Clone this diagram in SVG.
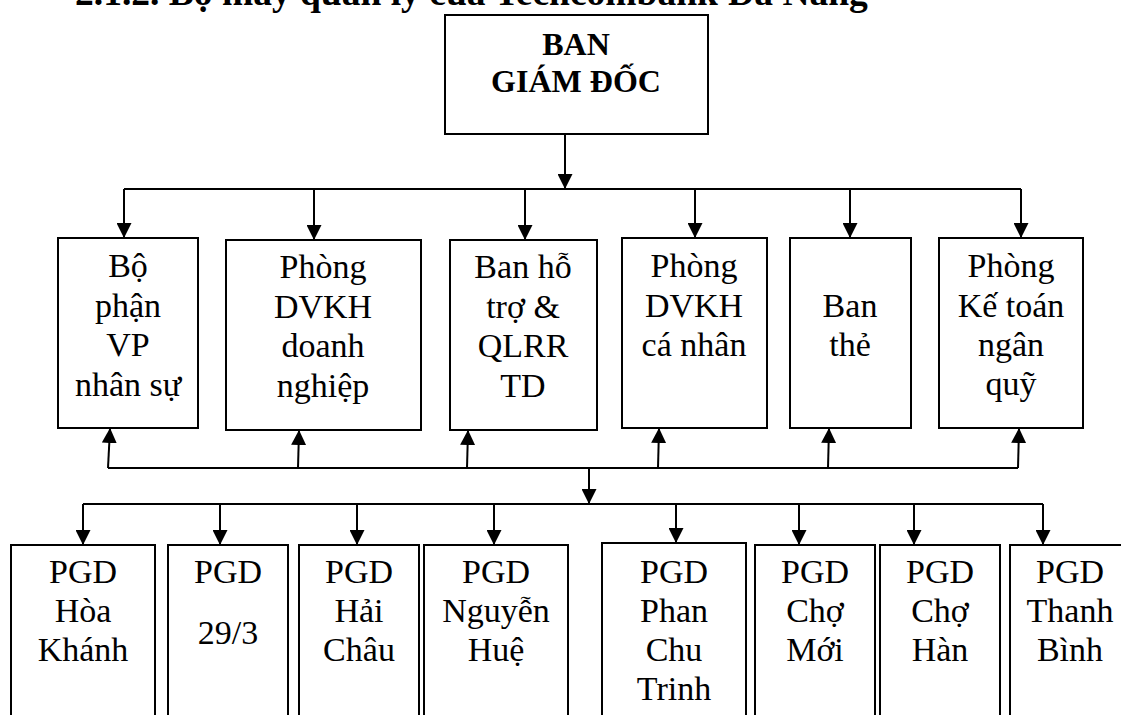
<svg xmlns="http://www.w3.org/2000/svg" width="1121" height="715" viewBox="0 0 1121 715">
<style>
.box{fill:#fff;stroke:#000;stroke-width:2}
.t{font-family:"Liberation Serif","Times New Roman",serif;font-size:34px;text-anchor:middle;fill:#000}
.b{font-family:"Liberation Serif","Times New Roman",serif;font-size:32px;font-weight:bold;text-anchor:middle;fill:#000}
.ttl{font-family:"Liberation Serif","Times New Roman",serif;font-size:37.5px;font-weight:bold;fill:#000}
.ln{fill:none;stroke:#000;stroke-width:2}
</style>
<defs>
<marker id="ah" markerWidth="15" markerHeight="15" refX="14" refY="7.5" orient="auto" markerUnits="userSpaceOnUse" viewBox="0 0 15 15">
<path d="M0,0 L15,7.5 L0,15 Z" fill="#000"/>
</marker>
</defs>
<rect width="1121" height="715" fill="#fff"/>
<text class="ttl" x="75" y="5">2.1.2. Bộ máy quản lý của Techcombank Đà Nẵng</text>

<g id="ban-giam-doc">
<rect class="box" x="445" y="15" width="263" height="119"/>
<text class="b" x="576" y="55">BAN</text>
<text class="b" x="576" y="92">GIÁM ĐỐC</text>
</g>

<g id="bo-phan-vp">
<rect class="box" x="58" y="238" width="140" height="190"/>
<text class="t" x="128" y="277">Bộ</text>
<text class="t" x="128" y="317">phận</text>
<text class="t" x="128" y="356">VP</text>
<text class="t" x="128" y="396">nhân sự</text>
</g>
<g id="phong-dvkh-dn">
<rect class="box" x="226" y="240" width="195" height="190"/>
<text class="t" x="323" y="278">Phòng</text>
<text class="t" x="323" y="318">DVKH</text>
<text class="t" x="323" y="357">doanh</text>
<text class="t" x="323" y="397">nghiệp</text>
</g>
<g id="ban-ho-tro">
<rect class="box" x="450" y="240" width="147" height="190"/>
<text class="t" x="523" y="278">Ban hỗ</text>
<text class="t" x="523" y="318">trợ &amp;</text>
<text class="t" x="523" y="357">QLRR</text>
<text class="t" x="523" y="397">TD</text>
</g>
<g id="phong-dvkh-cn">
<rect class="box" x="622" y="238" width="145" height="190"/>
<text class="t" x="694" y="277">Phòng</text>
<text class="t" x="694" y="317">DVKH</text>
<text class="t" x="694" y="356">cá nhân</text>
</g>
<g id="ban-the">
<rect class="box" x="790" y="238" width="121" height="190"/>
<text class="t" x="850" y="317">Ban</text>
<text class="t" x="850" y="356">thẻ</text>
</g>
<g id="phong-ke-toan">
<rect class="box" x="939" y="238" width="144" height="190"/>
<text class="t" x="1011" y="277">Phòng</text>
<text class="t" x="1011" y="317">Kế toán</text>
<text class="t" x="1011" y="356">ngân</text>
<text class="t" x="1011" y="395">quỹ</text>
</g>

<g id="pgd-hoa-khanh">
<rect class="box" x="11" y="545" width="144" height="180"/>
<text class="t" x="83" y="583">PGD</text>
<text class="t" x="83" y="622">Hòa</text>
<text class="t" x="83" y="661">Khánh</text>
</g>
<g id="pgd-29-3">
<rect class="box" x="168" y="545" width="120" height="180"/>
<text class="t" x="228" y="583">PGD</text>
<text class="t" x="228" y="644">29/3</text>
</g>
<g id="pgd-hai-chau">
<rect class="box" x="299" y="545" width="120" height="180"/>
<text class="t" x="359" y="583">PGD</text>
<text class="t" x="359" y="622">Hải</text>
<text class="t" x="359" y="661">Châu</text>
</g>
<g id="pgd-nguyen-hue">
<rect class="box" x="424" y="545" width="144" height="180"/>
<text class="t" x="496" y="583">PGD</text>
<text class="t" x="496" y="622">Nguyễn</text>
<text class="t" x="496" y="661">Huệ</text>
</g>
<g id="pgd-phan-chu-trinh">
<rect class="box" x="602" y="543" width="144" height="182"/>
<text class="t" x="674" y="583">PGD</text>
<text class="t" x="674" y="622">Phan</text>
<text class="t" x="674" y="661">Chu</text>
<text class="t" x="674" y="700">Trinh</text>
</g>
<g id="pgd-cho-moi">
<rect class="box" x="755" y="545" width="120" height="180"/>
<text class="t" x="815" y="583">PGD</text>
<text class="t" x="815" y="622">Chợ</text>
<text class="t" x="815" y="661">Mới</text>
</g>
<g id="pgd-cho-han">
<rect class="box" x="880" y="545" width="120" height="180"/>
<text class="t" x="940" y="583">PGD</text>
<text class="t" x="940" y="622">Chợ</text>
<text class="t" x="940" y="661">Hàn</text>
</g>
<g id="pgd-thanh-binh">
<rect class="box" x="1010" y="545" width="130" height="180"/>
<text class="t" x="1070" y="583">PGD</text>
<text class="t" x="1070" y="622">Thanh</text>
<text class="t" x="1070" y="661">Bình</text>
</g>

<g id="connectors">
<path class="ln" d="M565,134 V188" marker-end="url(#ah)"/>
<path class="ln" d="M124,189 H1021"/>
<path class="ln" d="M124,189 V237" marker-end="url(#ah)"/>
<path class="ln" d="M314,189 V239" marker-end="url(#ah)"/>
<path class="ln" d="M525,189 V239" marker-end="url(#ah)"/>
<path class="ln" d="M695,189 V237" marker-end="url(#ah)"/>
<path class="ln" d="M850,189 V237" marker-end="url(#ah)"/>
<path class="ln" d="M1021,189 V237" marker-end="url(#ah)"/>

<path class="ln" d="M108,468 H1018"/>
<path class="ln" d="M108,468 L110,429" marker-end="url(#ah)"/>
<path class="ln" d="M298,468 L299,431" marker-end="url(#ah)"/>
<path class="ln" d="M467,468 L468,431" marker-end="url(#ah)"/>
<path class="ln" d="M658,468 L659,429" marker-end="url(#ah)"/>
<path class="ln" d="M828,468 L829,429" marker-end="url(#ah)"/>
<path class="ln" d="M1018,468 L1019,429" marker-end="url(#ah)"/>

<path class="ln" d="M589,468 V503" marker-end="url(#ah)"/>
<path class="ln" d="M83,504 H1043"/>
<path class="ln" d="M83,504 V544" marker-end="url(#ah)"/>
<path class="ln" d="M220,504 V544" marker-end="url(#ah)"/>
<path class="ln" d="M357,504 V544" marker-end="url(#ah)"/>
<path class="ln" d="M494,504 V544" marker-end="url(#ah)"/>
<path class="ln" d="M676,504 V542" marker-end="url(#ah)"/>
<path class="ln" d="M799,504 V544" marker-end="url(#ah)"/>
<path class="ln" d="M914,504 V544" marker-end="url(#ah)"/>
<path class="ln" d="M1043,504 V544" marker-end="url(#ah)"/>
</g>
</svg>
